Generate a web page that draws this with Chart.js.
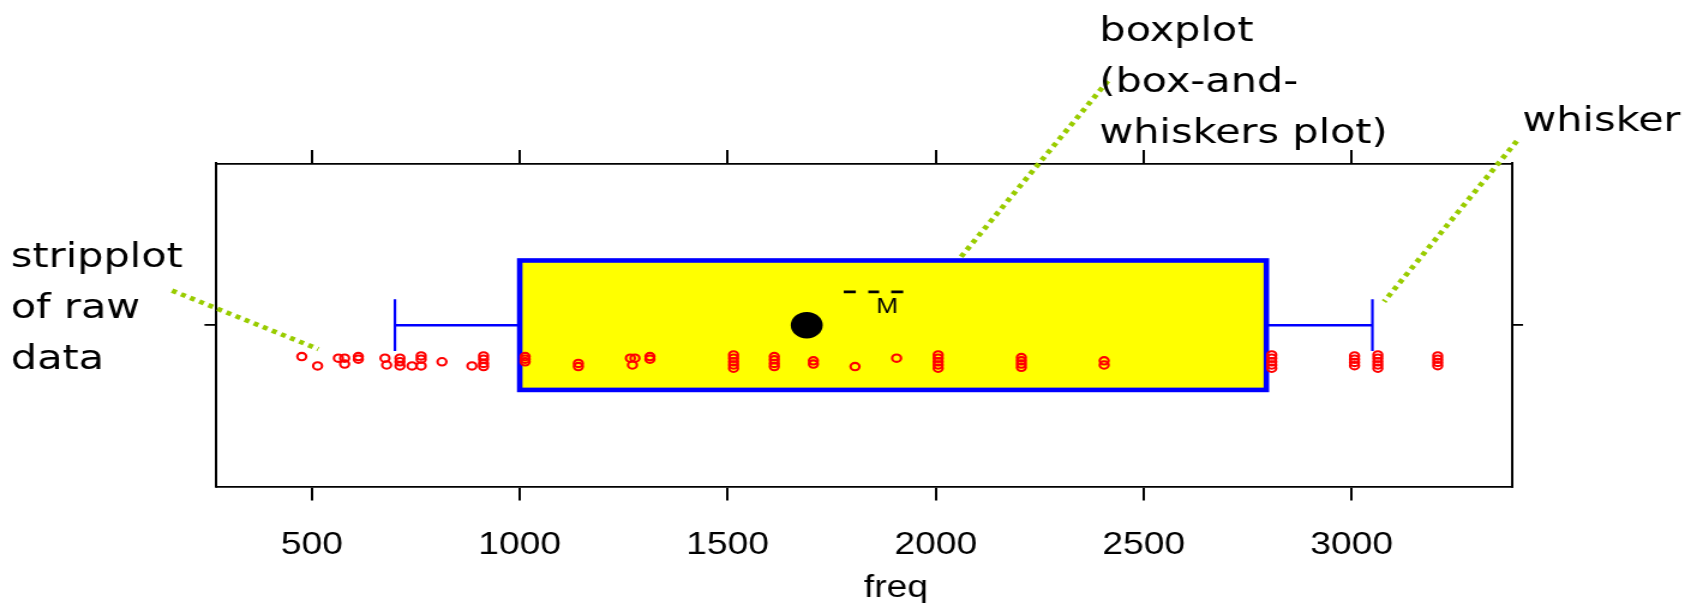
<!DOCTYPE html>
<html>
<head>
<meta charset="utf-8">
<script src="https://cdn.jsdelivr.net/npm/chart.js@4.4.1/dist/chart.umd.min.js"></script>
<style>
  html, body { margin: 0; padding: 0; background: #fff; }
  canvas { display: block; }
</style>
</head>
<body>
<!-- drawn at 1414 wide and shown at 1697: the original picture is stretched sideways -->
<canvas id="bwChart" width="1414" height="603" style="width:1697px;height:603px"></canvas>
<script>
/* --------------------------------------
   DATA
-------------------------------------- */
const xTicks = [500, 1000, 1500, 2000, 2500, 3000];
const xRange = [271, 3386];

// whisker low, Q1, median, Q3, whisker high
const boxFive = [700, 1000, 1690, 2795, 3050];

// raw values of the strip plot and their vertical jitter
const freqValues = [
  476, 514, 564, 579, 579, 612, 612, 676, 680, 712, 712, 712, 741, 763, 763, 763,
  813, 885, 913, 913, 913, 913,
  1013, 1013, 1013, 1141, 1141, 1266, 1277, 1271, 1313, 1313,
  1514, 1514, 1514, 1514, 1514, 1612, 1612, 1612, 1612, 1706, 1706, 1806, 1906,
  2006, 2006, 2006, 2006, 2006, 2206, 2206, 2206, 2206, 2405, 2405,
  2808, 2808, 2808, 2808, 2808, 3007, 3007, 3007, 3007,
  3063, 3063, 3063, 3063, 3063, 3207, 3207, 3207, 3207,
];
const jitterY = [
  0.903, 0.874, 0.898, 0.898, 0.880, 0.903, 0.895, 0.898, 0.877, 0.898, 0.887, 0.874, 0.874, 0.905, 0.895, 0.874,
  0.887, 0.874, 0.905, 0.895, 0.882, 0.872,
  0.903, 0.895, 0.887, 0.882, 0.872, 0.898, 0.898, 0.877, 0.903, 0.895,
  0.908, 0.898, 0.887, 0.877, 0.867, 0.903, 0.893, 0.882, 0.872, 0.890, 0.880, 0.872, 0.898,
  0.908, 0.898, 0.887, 0.877, 0.867, 0.900, 0.890, 0.880, 0.870, 0.890, 0.877,
  0.908, 0.898, 0.887, 0.877, 0.867, 0.905, 0.895, 0.885, 0.875,
  0.908, 0.898, 0.887, 0.877, 0.867, 0.905, 0.895, 0.885, 0.875,
];

// leader lines, in data units: [x1, y1, x2, y2]
const leaders = [
  [164, 1.107, 516, 0.926],
  [2414, 1.755, 2060, 1.21],
  [3397, 1.569, 3078, 1.073],
];

const LABEL_FONT = "34.5px 'DejaVu Sans'";
const AXIS_FONT = "'Liberation Sans', Arial, sans-serif";

document.addEventListener("DOMContentLoaded", () => {
  createBoxChart();
});

/* --------------------------------------
   BOX, WHISKERS (under the points)
-------------------------------------- */
const boxPlugin = {
  id: "boxAndWhiskers",
  beforeDatasetsDraw(chart) {
    const { ctx } = chart;
    const x = chart.scales.x;
    const y = chart.scales.y;
    const [lo, q1, , q3, hi] = boxFive;

    const top = y.getPixelForValue(1.2);
    const bot = y.getPixelForValue(0.8);
    const mid = y.getPixelForValue(1);
    const left = x.getPixelForValue(q1);
    const right = x.getPixelForValue(q3);

    ctx.save();
    ctx.fillStyle = "#ffff00";
    ctx.fillRect(left, top, right - left, bot - top);

    // whiskers
    ctx.strokeStyle = "#0000ff";
    ctx.lineWidth = 2.4;
    ctx.beginPath();
    ctx.moveTo(x.getPixelForValue(lo), mid);
    ctx.lineTo(left, mid);
    ctx.moveTo(right, mid);
    ctx.lineTo(x.getPixelForValue(hi), mid);
    ctx.stroke();

    ctx.lineWidth = 2.2;
    ctx.beginPath();
    [lo, hi].forEach((v) => {
      const px = x.getPixelForValue(v);
      ctx.moveTo(px, y.getPixelForValue(1.08));
      ctx.lineTo(px, y.getPixelForValue(0.92));
    });
    ctx.stroke();

    ctx.lineWidth = 4.6;
    ctx.strokeRect(left, top, right - left, bot - top);
    ctx.restore();
  },
};

/* --------------------------------------
   TEXT NOTES AND DOTTED LEADERS
-------------------------------------- */
const notesPlugin = {
  id: "notes",
  afterDraw(chart) {
    const { ctx } = chart;
    const x = chart.scales.x;
    const y = chart.scales.y;

    ctx.save();
    // dotted green leaders
    ctx.strokeStyle = "#99cc00";
    ctx.lineWidth = 4.6;
    ctx.setLineDash([4.2, 4.2]);
    leaders.forEach(([x1, y1, x2, y2]) => {
      ctx.beginPath();
      ctx.moveTo(x.getPixelForValue(x1), y.getPixelForValue(y1));
      ctx.lineTo(x.getPixelForValue(x2), y.getPixelForValue(y2));
      ctx.stroke();
    });
    ctx.setLineDash([]);

    // the "- -M" mark next to the median
    ctx.strokeStyle = "#000";
    ctx.lineWidth = 2.6;
    const dashY = y.getPixelForValue(1.103);
    ctx.beginPath();
    [[1779, 1808], [1838, 1864], [1893, 1922]].forEach(([a, b]) => {
      ctx.moveTo(x.getPixelForValue(a), dashY);
      ctx.lineTo(x.getPixelForValue(b), dashY);
    });
    ctx.stroke();
    ctx.fillStyle = "#000";
    ctx.font = "22px " + AXIS_FONT;
    ctx.textAlign = "center";
    ctx.textBaseline = "alphabetic";
    ctx.fillText("M", x.getPixelForValue(1883), y.getPixelForValue(1.0386));

    // axis label
    ctx.font = "31px " + AXIS_FONT;
    ctx.fillText("freq", 746.5, 597);

    // notes
    ctx.font = LABEL_FONT;
    ctx.textAlign = "left";
    const notes = [
      { lines: ["stripplot", "of raw", "data"], left: 9, base: 266.7 },
      { lines: ["boxplot", "(box-and-", "whiskers plot)"], left: 916, base: 40.7 },
      { lines: ["whisker"], left: 1268.5, base: 130.7 },
    ];
    notes.forEach((n) => {
      n.lines.forEach((t, i) => ctx.fillText(t, n.left, n.base + i * 50.9));
    });
    ctx.restore();
  },
};

/* --------------------------------------
   CHART
-------------------------------------- */
function createBoxChart() {
  const ctx = document.getElementById("bwChart");

  const stripPoints = freqValues.map((v, i) => ({ x: v, y: jitterY[i] }));

  const frame = { display: true, color: "#000", width: 2 };
  const xGrid = { drawOnChartArea: false, drawTicks: true, tickLength: 13.5, color: "#000", lineWidth: 2 };
  const setXTicks = (s) => { s.ticks = xTicks.map((v) => ({ value: v })); };
  const setYTicks = (s) => { s.ticks = [{ value: 1 }]; };

  new Chart(ctx, {
    type: "scatter",
    data: {
      datasets: [
        {
          label: "median",
          data: [{ x: boxFive[2], y: 1 }],
          pointRadius: 13.3,
          backgroundColor: "#000",
          borderWidth: 0,
        },
        {
          label: "freq",
          data: stripPoints,
          pointStyle: "circle",
          pointRadius: 3.7,
          borderColor: "#ff0000",
          backgroundColor: "rgba(0,0,0,0)",
          borderWidth: 2.1,
        },
      ],
    },
    options: {
      responsive: false,
      devicePixelRatio: 1,
      animation: false,
      events: [],
      layout: { padding: 0 },
      plugins: {
        legend: { display: false },
        tooltip: { enabled: false },
      },
      scales: {
        x: {
          type: "linear",
          position: "bottom",
          min: xRange[0],
          max: xRange[1],
          afterBuildTicks: setXTicks,
          afterFit: (s) => { s.height = 116; },
          grid: xGrid,
          border: { ...frame, width: 1.8 },
          ticks: {
            color: "#000",
            font: { family: AXIS_FONT, size: 31 },
            padding: 26,
            maxRotation: 0,
            autoSkip: false,
            callback: (v) => String(v),
          },
        },
        xTop: {
          type: "linear",
          position: "top",
          min: xRange[0],
          max: xRange[1],
          afterBuildTicks: setXTicks,
          afterFit: (s) => { s.height = 163.4; },
          grid: xGrid,
          border: { ...frame, width: 1.8 },
          ticks: { display: false },
        },
        y: {
          type: "linear",
          position: "left",
          min: 0.5,
          max: 1.5,
          afterBuildTicks: setYTicks,
          afterFit: (s) => { s.width = 180.4; },
          grid: { drawOnChartArea: false, drawTicks: true, tickLength: 10, color: "#000", lineWidth: 1.8 },
          border: frame,
          ticks: { display: false },
        },
        yRight: {
          type: "linear",
          position: "right",
          min: 0.5,
          max: 1.5,
          afterBuildTicks: setYTicks,
          afterFit: (s) => { s.width = 154; },
          grid: { drawOnChartArea: false, drawTicks: true, tickLength: 9, color: "#000", lineWidth: 1.8 },
          border: frame,
          ticks: { display: false },
        },
      },
    },
    plugins: [boxPlugin, notesPlugin],
  });
}
</script>
</body>
</html>
